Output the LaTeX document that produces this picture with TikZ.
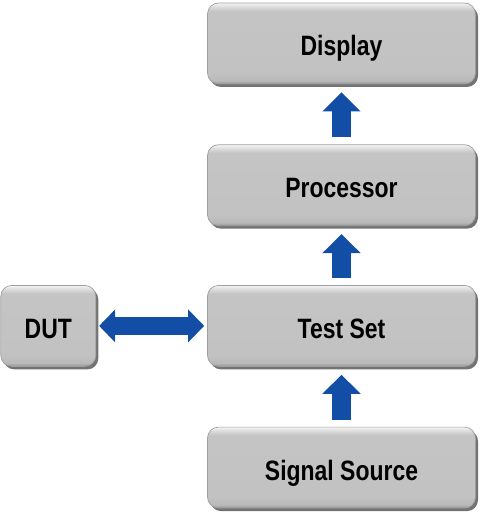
\documentclass[tikz,border=0pt]{standalone}
\usepackage{fontspec}
\setmainfont{Liberation Sans}
\usetikzlibrary{positioning,arrows.meta,shadows}
\definecolor{arrowblue}{RGB}{18,78,165}
\pgfdeclareverticalshading{boxshade}{100bp}{color(0bp)=(gray!85); color(25bp)=(gray!85);
  color(27bp)=(gray!55); color(32bp)=(gray!48); color(70bp)=(gray!46); color(73bp)=(gray!25);
  color(75bp)=(gray!8); color(100bp)=(gray!8)}
\newcommand\slim[1]{\scalebox{0.82}[1]{#1}}

\begin{document}
\begin{tikzpicture}[x=1pt,y=1pt,
  block/.style={rounded corners=11pt,shading=boxshade,draw=gray!75,line width=0.7pt,
    minimum width=268pt,minimum height=81pt,inner sep=0pt,text height=25pt,text depth=0pt,
    font=\bfseries\fontsize{28}{32}\selectfont,
    drop shadow={shadow xshift=2.5pt,shadow yshift=-3pt,opacity=0.55,fill=black}},
  flow/.style={draw=arrowblue,line width=19pt,-{Triangle[width=37pt,length=19pt]},
    shorten <=7pt,shorten >=8pt},
  link/.style={draw=arrowblue,line width=18pt,
    {Triangle[width=32pt,length=16pt]}-{Triangle[width=32pt,length=16pt]},
    shorten <=3pt,shorten >=3pt}]
  \useasboundingbox (0,0) rectangle (480,-513);
  \node[block] (disp) at (341.5,-43.5) {\slim{Display}};
  \node[block,below=60pt of disp] (proc) {\slim{Processor}};
  \node[block,below=59pt of proc] (test) {\slim{Test Set}};
  \node[block,below=60pt of test] (src) {\slim{Signal Source}};
  \node[block,minimum width=95pt,left=111pt of test] (dut) {\slim{DUT}};
  \draw[flow] (proc) -- (disp);
  \draw[flow] (test) -- (proc);
  \draw[flow] (src) -- (test);
  \draw[link] (dut) -- (test);
\end{tikzpicture}
\end{document}
